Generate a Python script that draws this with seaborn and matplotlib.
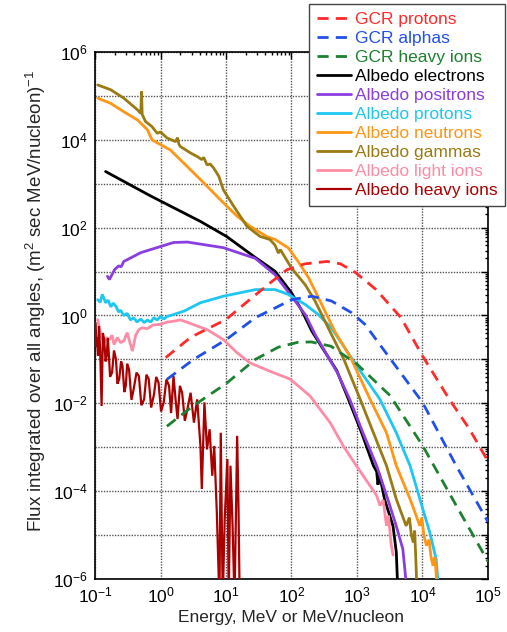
import numpy as np
import pandas as pd
import matplotlib
matplotlib.use("Agg")
import matplotlib.pyplot as plt
import seaborn as sns
from matplotlib.ticker import LogLocator, FuncFormatter, NullFormatter

# ---------------- data ----------------
gcr_protons_E = [1.2, 2.9, 10, 23, 47, 85, 160, 350, 560, 950, 1950, 4700, 1.0e4, 2.6e4, 5.2e4, 1.0e5]
gcr_protons_F = [0.11, 0.32, 0.81, 2.3, 5.5, 11, 15, 17, 15, 9.5, 3.9, 0.89, 0.12, 0.012, 0.0026, 0.00048]

gcr_alphas_E = [1.25, 3.2, 10, 28, 56, 100, 204, 407, 832, 1320, 3550, 1.0e4, 3.3e4, 1.0e5]
gcr_alphas_F = [0.035, 0.10, 0.28, 0.89, 1.48, 2.29, 2.75, 2.14, 1.15, 0.63, 0.085, 0.0105, 0.00037, 2.0e-5]

gcr_heavy_E = [1.25, 3.2, 10, 28, 63, 125, 200, 400, 1000, 3200, 1.0e4, 3.2e4, 1.0e5]
gcr_heavy_F = [0.003, 0.0089, 0.028, 0.1, 0.19, 0.245, 0.25, 0.2, 0.078, 0.015, 0.0011, 5.0e-5, 2.5e-6]

electrons_E = [0.145, 0.71, 4.1, 10.2, 28, 56, 100, 145, 204, 490, 741, 1175, 1780, 1995, 2090, 2190,
               2630, 3550, 3980, 4270]
electrons_F = [1900, 525, 138, 63, 21, 10.2, 3.3, 1.26, 0.44, 0.056, 0.0123, 0.00214, 3.8e-4, 2.8e-4,
               1.4e-4, 2.5e-4, 6.6e-5, 1.6e-5, 4.1e-6, 3e-7]

positrons_E = [0.155, 0.166, 0.2, 0.23, 0.25, 0.275, 0.5, 1.58, 2.57, 9.12, 28, 56, 100, 162, 229, 501,
               776, 1230, 1995, 2950, 3980, 5010, 6030]
positrons_F = [7.8, 6.6, 11.2, 13.5, 12.8, 17, 27, 46, 47, 35, 20, 8.5, 2.75, 1.05, 0.37, 0.05,
               0.0123, 0.00214, 3.8e-4, 6.6e-5, 1.6e-5, 4.8e-6, 3e-7]

protons_E = [0.11, 0.12, 0.129, 0.138, 0.145, 0.158, 0.174, 0.19, 0.209, 0.229, 0.245, 0.275, 0.309,
             0.347, 0.389, 0.437, 0.5, 0.562, 0.631, 0.708, 0.794, 0.891, 1.0, 1.12, 1.26, 1.58, 2.29,
             4.07, 9.12, 28.2, 56.2, 89.1, 162, 257, 407, 977, 2240, 3980, 6460, 9120, 12900, 16200, 18200]
protons_F = [2.29, 2.0, 3.02, 2.4, 1.95, 2.24, 1.58, 1.91, 1.62, 1.2, 1.32, 1.0, 1.12, 0.79, 0.89, 0.71,
             0.83, 0.69, 0.79, 0.71, 0.89, 0.79, 0.95, 0.83, 0.95, 1.05, 1.26, 1.95, 2.75, 3.89, 3.89,
             3.02, 1.78, 1.05, 0.52, 0.074, 0.0123, 0.00214, 3.8e-4, 6.6e-5, 1.15e-5, 2.8e-6, 3e-7]

neutrons_E = [0.11, 0.174, 0.275, 0.447, 0.631, 0.741, 1.0, 1.41, 2.57, 4.57, 8.13, 14.8, 23.4, 41.7,
              56.2, 89.1, 126, 182, 257, 363, 457, 794, 1585, 2820, 3980, 6460, 9120, 9770, 10500,
              11500, 12600, 13500, 14500, 15500, 16200, 17000]
neutrons_F = [89100, 67600, 43700, 28200, 17000, 10000, 7760, 5890, 2450, 1050, 437, 182, 107, 63,
              53.7, 34.7, 17, 7.24, 2.57, 0.89, 0.437, 0.112, 0.0123, 0.00214, 3.8e-4, 6.6e-5, 1.62e-5,
              2.5e-5, 1.0e-5, 5.75e-6, 7.9e-6, 3.16e-6, 2.0e-6, 3.16e-6, 1.26e-6, 3e-7]

gammas_E = [0.11, 0.174, 0.275, 0.447, 0.5, 0.513, 0.525, 0.589, 0.741, 0.891, 1.0, 1.26, 1.7, 1.82,
            1.91, 2.0, 2.88, 3.63, 4.27, 4.57, 5.13, 5.75, 6.46, 7.76, 9.12, 13.2, 20.9, 33.1, 46.8,
            56.2, 63.1, 67.6, 100, 162, 229, 324, 407, 631, 1120, 1780, 2820, 3980, 5620, 6310, 6760,
            7240, 7590, 7940, 8320]
gammas_F = [178000, 138000, 89100, 47900, 39800, 126000, 38000, 26300, 20000, 14100, 15100, 11000,
            9120, 11200, 7940, 7080, 5010, 4170, 3550, 3980, 2690, 2820, 2290, 1480, 724, 302, 107,
            63.1, 53.7, 39.8, 26.3, 31.6, 12, 5.01, 2.14, 0.741, 0.372, 0.1, 0.0123, 0.00214, 3.8e-4,
            6.6e-5, 1.62e-5, 2.5e-5, 1.0e-5, 6.8e-6, 1.26e-5, 2.5e-6, 3e-7]

light_ions_E = [0.11, 0.117, 0.126, 0.138, 0.151, 0.166, 0.182, 0.195, 0.219, 0.245, 0.275, 0.309,
                0.331, 0.372, 0.417, 0.468, 0.525, 0.631, 0.759, 1.0, 1.26, 1.58, 2.0, 2.51, 3.63,
                5.13, 9.12, 14.8, 23.4, 46.8, 95.5, 191, 389, 617, 977, 1585, 1995, 2240, 2510, 2820,
                3020, 3310, 3550]
light_ions_F = [0.81, 0.5, 0.316, 0.24, 0.316, 0.282, 0.355, 0.219, 0.316, 0.24, 0.263, 0.407, 0.282,
                0.155, 0.355, 0.479, 0.525, 0.5, 0.603, 0.631, 0.708, 0.741, 0.794, 0.708, 0.575,
                0.479, 0.282, 0.141, 0.083, 0.0537, 0.0355, 0.0148, 0.00363, 0.00107, 3.8e-4,
                1.32e-4, 7.9e-5, 4.7e-5, 6.3e-5, 1.62e-5, 2.8e-5, 6.3e-6, 3.5e-6]

heavy_ions_E = [0.102, 0.105, 0.107, 0.111, 0.115, 0.12, 0.126, 0.132, 0.138, 0.145, 0.151, 0.157,
                0.162, 0.17, 0.182, 0.195, 0.209, 0.22, 0.234, 0.25, 0.263, 0.28, 0.295, 0.31,
                0.331, 0.36, 0.389, 0.43, 0.468, 0.51, 0.562, 0.61, 0.661, 0.72, 0.794, 0.86, 0.933,
                1.02, 1.12, 1.23, 1.35, 1.45, 1.58, 1.7, 1.82, 1.98, 2.14, 2.35, 2.57, 2.88, 3.24,
                3.63, 4.07, 4.27, 4.68, 5.13, 5.62, 6.17, 6.61, 7.24, 7.94, 8.32, 8.91, 9.55, 10.5,
                11.0, 11.7, 12.6, 13.5, 14.8, 15.5, 16.2]
heavy_ions_F = [0.676, 0.2, 0.316, 0.12, 0.575, 0.15, 0.0087, 0.4, 0.282, 0.09, 0.126, 0.3, 0.141,
                0.04, 0.05, 0.16, 0.1, 0.028, 0.0355, 0.09, 0.0708, 0.018, 0.0251, 0.08, 0.0589,
                0.012, 0.0209, 0.05, 0.0417, 0.009, 0.0123, 0.045, 0.0355, 0.008, 0.0158, 0.04,
                0.0295, 0.0065, 0.0105, 0.035, 0.0251, 0.006, 0.0417, 0.012, 0.00437, 0.025, 0.0174,
                0.004, 0.00724, 0.0174, 0.00363, 0.0123, 0.00107, 1.12e-4, 0.0105, 8.9e-4, 0.00257,
                2.24e-4, 0.00107, 3.3e-5, 3e-7, 0.00214, 3e-7, 2.3e-5, 5.4e-4, 3e-7, 3.8e-4,
                1.62e-5, 3e-7, 0.00182, 4.7e-5, 3e-7]

labels = ["GCR protons", "GCR alphas", "GCR heavy ions", "Albedo electrons", "Albedo positrons",
          "Albedo protons", "Albedo neutrons", "Albedo gammas", "Albedo light ions", "Albedo heavy ions"]

# ---------------- style ----------------
sns.set_theme(style="white")
plt.rcParams["font.family"] = ["Liberation Sans", "DejaVu Sans"]
plt.rcParams["mathtext.default"] = "regular"

colors = ["#ff2a2a", "#2050e8", "#1e8030", "#000000", "#8a3ee0",
          "#1ec6f2", "#ff9614", "#9a7a12", "#ff8ca6", "#aa0000"]
dashed = [True, True, True, False, False, False, False, False, False, False]
widths = [2.0, 2.0, 2.0, 2.0, 2.0, 2.0, 2.0, 2.0, 2.0, 1.6]

series = [
    (gcr_protons_E, gcr_protons_F), (gcr_alphas_E, gcr_alphas_F), (gcr_heavy_E, gcr_heavy_F),
    (electrons_E, electrons_F), (positrons_E, positrons_F), (protons_E, protons_F),
    (neutrons_E, neutrons_F), (gammas_E, gammas_F), (light_ions_E, light_ions_F),
    (heavy_ions_E, heavy_ions_F),
]
zorders = [5, 5, 5, 3, 3, 3, 3, 3, 3, 4]

fig = plt.figure(figsize=(5.07, 6.32), dpi=100)
ax = fig.add_axes([0.1874, 0.0839, 0.7751, 0.8338])
ax.set_xscale("log")
ax.set_yscale("log")

for (E, F), lab, col, dsh, z, w in zip(series, labels, colors, dashed, zorders, widths):
    df = pd.DataFrame({"E": E, "F": F})
    sns.lineplot(data=df, x="E", y="F", ax=ax, color=col, lw=w, label=lab,
                 estimator=None, sort=False, zorder=z, solid_joinstyle="bevel",
                 linestyle=(0, (4, 2.6)) if dsh else "-")

ax.set_xlim(0.1, 1e5)
ax.set_ylim(1e-6, 1e6)

ax.xaxis.set_major_locator(LogLocator(base=10, numticks=20))
ax.yaxis.set_major_locator(LogLocator(base=10, numticks=20))
ax.xaxis.set_minor_locator(LogLocator(base=10, subs=np.arange(2, 10), numticks=200))
ax.yaxis.set_minor_locator(LogLocator(base=10, subs=np.arange(2, 10), numticks=200))
ax.xaxis.set_minor_formatter(NullFormatter())
ax.yaxis.set_minor_formatter(NullFormatter())


def xfmt(v, pos):
    e = int(round(np.log10(v)))
    return r"$10^{%d}$" % e


def yfmt(v, pos):
    e = int(round(np.log10(v)))
    return r"$10^{%d}$" % e if e % 2 == 0 else ""


ax.xaxis.set_major_formatter(FuncFormatter(xfmt))
ax.yaxis.set_major_formatter(FuncFormatter(yfmt))

ax.tick_params(which="both", direction="in", top=True, right=True, colors="black",
               labelsize=12.5, width=1.0)
ax.tick_params(which="major", length=5, pad=5)
ax.tick_params(which="minor", length=2.5)

ax.grid(True, which="major", linestyle=(0, (1, 1)), color="#555555", linewidth=1.0)
ax.set_axisbelow(True)
for sp in ax.spines.values():
    sp.set_color("black")
    sp.set_linewidth(1.2)

ax.set_xlabel("Energy, MeV or MeV/nucleon", fontsize=12.5, labelpad=3)
ax.set_ylabel(r"Flux integrated over all angles, (m$^2$ sec MeV/nucleon)$^{-1}$", fontsize=13.5)
ax.yaxis.set_label_coords(-0.12, 0.527)

handles, labs = ax.get_legend_handles_labels()
leg = ax.legend(handles, labs, loc="upper right", bbox_to_anchor=(505 / 507, 1 - 4 / 632),
                bbox_transform=fig.transFigure, frameon=True, fancybox=False, framealpha=1,
                edgecolor="#444444", fontsize=12.5, labelcolor="linecolor", handlelength=1.95,
                handletextpad=0.2, labelspacing=0.22, borderpad=0.45, borderaxespad=0)
leg.get_frame().set_linewidth(1.0)
leg.set_zorder(10)

fig.savefig("out.png", dpi=100)
